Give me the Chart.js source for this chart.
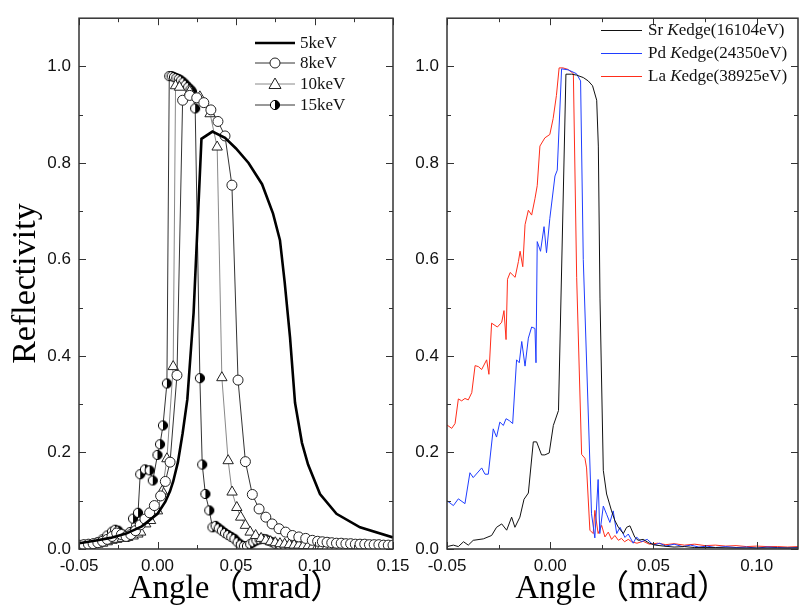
<!DOCTYPE html>
<html><head><meta charset="utf-8">
<script src="https://cdn.jsdelivr.net/npm/chart.js@4.4.1/dist/chart.umd.min.js"></script>
<style>
html,body{margin:0;padding:0;background:#fff;}
#wrap{position:relative;width:802px;height:610px;overflow:hidden;}
#left{position:absolute;left:0;top:0;}
#right{position:absolute;left:400px;top:0;}
</style></head><body>
<div id="wrap"><canvas id="left" width="420" height="610"></canvas><canvas id="right" width="402" height="610"></canvas></div>
<script>
// left panel: reflectivity vs angle for different energies
const e5X = [-0.05,-0.04,-0.03,-0.02,-0.01,0,0.005,0.008,0.01,0.013,0.016,0.019,0.022,0.023,0.028,0.035,0.043,0.05,0.058,0.0666,0.0736,0.078,0.081,0.0844,0.0876,0.092,0.0959,0.1035,0.114,0.129,0.15];
const e5Y = [0.012,0.017,0.023,0.032,0.047,0.073,0.098,0.12,0.14,0.18,0.24,0.31,0.445,0.49,0.85,0.865,0.852,0.83,0.80,0.756,0.695,0.64,0.553,0.439,0.303,0.22,0.175,0.114,0.073,0.045,0.024];

const e8X = [-0.05,-0.047,-0.044,-0.041,-0.038,-0.035,-0.032,-0.029,-0.026,-0.023,-0.02,-0.017,-0.014,-0.011,-0.008,-0.005,-0.002,0.002,0.005,0.008,0.0124,0.016,0.0205,0.025,0.0295,0.034,0.0385,0.043,0.0474,0.0513,0.056,0.0604,0.0647,0.069,0.073,0.0774,0.0816,0.0859,0.09,0.0944,0.0986,0.102,0.105,0.108,0.111,0.114,0.117,0.12,0.123,0.126,0.129,0.132,0.135,0.138,0.141,0.144,0.147,0.15];
const e8Y = [0.008,0.009,0.01,0.011,0.013,0.016,0.02,0.026,0.033,0.03,0.026,0.03,0.038,0.05,0.062,0.075,0.09,0.11,0.14,0.18,0.36,0.93,0.94,0.935,0.925,0.91,0.886,0.856,0.754,0.35,0.181,0.113,0.083,0.066,0.052,0.042,0.035,0.028,0.025,0.022,0.018,0.016,0.015,0.014,0.013,0.012,0.012,0.011,0.011,0.01,0.01,0.01,0.009,0.009,0.009,0.008,0.008,0.008];

const e10X = [-0.05,-0.047,-0.044,-0.041,-0.038,-0.035,-0.032,-0.029,-0.026,-0.0224,-0.019,-0.0155,-0.0125,-0.0107,-0.0075,-0.0044,0.0,0.003,0.006,0.010,0.0115,0.014,0.0205,0.027,0.0335,0.038,0.041,0.045,0.0475,0.0505,0.053,0.056,0.059,0.0625,0.066,0.069,0.072,0.075,0.078,0.081,0.084,0.087,0.09,0.093,0.096,0.099,0.102,0.105,0.108,0.111,0.114,0.117,0.12,0.123,0.126,0.129,0.132,0.135,0.138,0.141,0.144,0.147,0.15];
const e10Y = [0.006,0.007,0.008,0.009,0.01,0.012,0.015,0.018,0.02,0.022,0.024,0.027,0.031,0.035,0.052,0.059,0.079,0.12,0.187,0.378,0.96,0.957,0.948,0.937,0.902,0.833,0.355,0.183,0.118,0.086,0.066,0.049,0.035,0.028,0.022,0.018,0.015,0.013,0.011,0.01,0.009,0.008,0.008,0.007,0.007,0.006,0.006,0.006,0.005,0.005,0.005,0.005,0.004,0.004,0.004,0.004,0.004,0.004,0.003,0.003,0.003,0.003,0.003];

const e15X = [-0.05,-0.047,-0.044,-0.041,-0.038,-0.035,-0.032,-0.029,-0.027,-0.025,-0.022,-0.019,-0.0175,-0.0156,-0.0124,-0.011,-0.008,-0.005,-0.003,0.0,0.0016,0.0035,0.006,0.0075,0.009,0.0105,0.012,0.0135,0.015,0.0165,0.018,0.0195,0.021,0.022,0.024,0.027,0.0285,0.0305,0.033,0.035,0.037,0.039,0.041,0.043,0.045,0.047,0.049,0.051,0.053,0.055,0.057,0.059,0.061,0.063,0.065,0.067,0.069,0.071,0.073,0.075,0.078,0.081,0.084,0.087,0.09,0.093,0.096,0.099,0.102,0.105,0.108,0.111,0.114,0.117,0.12,0.123,0.126,0.129,0.132,0.135,0.138,0.141,0.144,0.147,0.15];
const e15Y = [0.005,0.006,0.008,0.01,0.014,0.02,0.028,0.036,0.04,0.038,0.03,0.025,0.035,0.063,0.075,0.155,0.165,0.163,0.142,0.195,0.217,0.256,0.343,0.98,0.98,0.978,0.976,0.974,0.971,0.967,0.962,0.957,0.952,0.948,0.913,0.354,0.175,0.114,0.08,0.045,0.048,0.043,0.038,0.033,0.029,0.025,0.021,0.014,0.009,0.006,0.006,0.01,0.014,0.018,0.02,0.021,0.02,0.017,0.014,0.011,0.008,0.006,0.006,0.007,0.007,0.007,0.006,0.006,0.005,0.005,0.005,0.005,0.005,0.004,0.004,0.004,0.004,0.004,0.004,0.004,0.004,0.004,0.004,0.004,0.004];

// right panel: absorption edges
const srX = [-0.05,-0.0469,-0.0445,-0.042,-0.0397,-0.0373,-0.0324,-0.0284,-0.026,-0.0235,-0.0211,-0.0187,-0.0171,-0.0147,-0.0127,-0.0106,-0.0082,-0.0066,-0.0042,-0.0026,-0.0005,0.0015,0.004,0.0076,0.0104,0.0128,0.016,0.0184,0.0205,0.0225,0.0233,0.0241,0.0257,0.0273,0.0297,0.0313,0.033,0.0354,0.037,0.0386,0.041,0.0426,0.045,0.048,0.051,0.055,0.06,0.065,0.07,0.08,0.09,0.1,0.11,0.12];
const srY = [0.005,0.008,0.005,0.015,0.008,0.018,0.021,0.028,0.045,0.052,0.039,0.066,0.045,0.066,0.103,0.116,0.222,0.222,0.195,0.195,0.199,0.256,0.287,0.984,0.984,0.982,0.977,0.97,0.96,0.93,0.835,0.52,0.163,0.114,0.079,0.059,0.045,0.032,0.045,0.048,0.024,0.018,0.02,0.012,0.008,0.006,0.004,0.005,0.003,0.003,0.002,0.002,0.002,0.002];

const pdX = [-0.05,-0.0469,-0.0445,-0.0413,-0.0389,-0.0373,-0.0332,-0.0316,-0.03,-0.0276,-0.026,-0.0244,-0.0227,-0.0214,-0.0198,-0.0182,-0.0163,-0.015,-0.0138,-0.0122,-0.0106,-0.009,-0.0074,-0.0069,-0.0063,-0.0047,-0.003,-0.0018,-0.0002,0.0023,0.0034,0.0055,0.0087,0.0127,0.0147,0.016,0.02,0.0216,0.0232,0.024,0.0257,0.0273,0.0289,0.0305,0.0322,0.0338,0.0362,0.0378,0.0402,0.0418,0.044,0.047,0.05,0.053,0.056,0.06,0.064,0.068,0.072,0.076,0.08,0.085,0.09,0.095,0.1,0.105,0.11,0.115,0.12];
const pdY = [0.1,0.09,0.104,0.094,0.158,0.148,0.168,0.155,0.155,0.249,0.232,0.263,0.256,0.27,0.266,0.26,0.392,0.386,0.43,0.379,0.437,0.46,0.457,0.386,0.637,0.617,0.668,0.614,0.685,0.773,0.785,0.995,0.993,0.985,0.97,0.6,0.073,0.023,0.144,0.032,0.089,0.072,0.055,0.079,0.032,0.045,0.024,0.031,0.012,0.025,0.015,0.02,0.008,0.012,0.006,0.01,0.005,0.008,0.004,0.006,0.003,0.005,0.003,0.004,0.002,0.004,0.003,0.002,0.003];

const laX = [-0.05,-0.0477,-0.0461,-0.0445,-0.0429,-0.0413,-0.0397,-0.038,-0.0364,-0.0348,-0.0332,-0.0308,-0.0297,-0.0284,-0.0256,-0.0235,-0.0224,-0.0214,-0.0207,-0.0194,-0.017,-0.0154,-0.0146,-0.0133,-0.0122,-0.0106,-0.009,-0.0074,-0.0063,-0.005,-0.0026,-0.0002,0.0014,0.003,0.0043,0.0062,0.0085,0.0103,0.0112,0.0128,0.0152,0.0168,0.0176,0.0192,0.0208,0.0216,0.0232,0.0249,0.0265,0.0281,0.0297,0.0313,0.033,0.0345,0.036,0.0378,0.0394,0.042,0.045,0.048,0.052,0.056,0.06,0.065,0.07,0.075,0.08,0.085,0.09,0.095,0.1,0.105,0.11,0.115,0.12];
const laY = [0.257,0.25,0.26,0.311,0.307,0.312,0.309,0.324,0.38,0.378,0.372,0.392,0.362,0.468,0.46,0.47,0.494,0.434,0.559,0.573,0.563,0.596,0.617,0.585,0.672,0.702,0.692,0.726,0.753,0.835,0.852,0.859,0.892,0.94,0.997,0.997,0.994,0.988,0.985,0.563,0.196,0.188,0.168,0.039,0.032,0.08,0.032,0.049,0.025,0.035,0.02,0.028,0.018,0.022,0.015,0.02,0.015,0.012,0.016,0.01,0.012,0.009,0.011,0.008,0.01,0.007,0.008,0.006,0.007,0.005,0.006,0.005,0.005,0.004,0.005];

// axis ticks
const leftXMajor = [-0.05,0,0.05,0.1,0.15];
const leftXMinor = [-0.025,0.025,0.075,0.125];
const rightXMajor = [-0.05,0,0.05,0.1];
const rightXMinor = [-0.025,0.025,0.075];
const yMajor = [0,0.2,0.4,0.6,0.8,1.0];
const yMinor = [0.1,0.3,0.5,0.7,0.9];

const leftLabels = ['5keV','8keV','10keV','15keV'];
const rightLabels = [['Sr ','K','edge(16104eV)'],['Pd ','K','edge(24350eV)'],['La ','K','edge(38925eV)']];

const SERIF = "'Liberation Serif', 'Times New Roman', 'Noto Sans CJK SC', serif";
const SANS = "'Liberation Sans', Arial, sans-serif";

const pts = (xs, ys) => xs.map((x, i) => ({x, y: ys[i]}));

// half-filled circle marker (left white, right black)
const halfImg = document.createElement('canvas');
halfImg.width = 12; halfImg.height = 12;
(function() {
  const c = halfImg.getContext('2d');
  c.fillStyle = '#fff';
  c.beginPath(); c.arc(6, 6, 4.6, 0, Math.PI*2); c.fill();
  c.fillStyle = '#000';
  c.beginPath(); c.arc(6, 6, 4.6, -Math.PI/2, Math.PI/2); c.fill();
  c.strokeStyle = '#000'; c.lineWidth = 1;
  c.beginPath(); c.arc(6, 6, 4.6, 0, Math.PI*2); c.stroke();
})();

const frameTicks = {
  id: 'frameTicks',
  afterDraw(chart, args, o) {
    const {ctx, chartArea: a, scales: {x, y}} = chart;
    const ln = (x1, y1, x2, y2) => { ctx.beginPath(); ctx.moveTo(x1, y1); ctx.lineTo(x2, y2); ctx.stroke(); };
    ctx.save();
    ctx.strokeStyle = '#333';
    ctx.lineWidth = 1;
    const xt = (vals, len) => vals.forEach(v => { const p = Math.round(x.getPixelForValue(v)) + 0.5; ln(p, a.bottom, p, a.bottom - len); ln(p, a.top, p, a.top + len); });
    const yt = (vals, len) => vals.forEach(v => { const p = Math.round(y.getPixelForValue(v)) + 0.5; ln(a.left, p, a.left + len, p); ln(a.right, p, a.right - len, p); });
    xt(o.xMajor, 7); xt(o.xMinor, 4);
    yt(yMajor, 7); yt(yMinor, 4);
    ctx.lineWidth = 1.5;
    ctx.strokeRect(a.left, a.top, a.right - a.left, a.bottom - a.top);
    ctx.restore();
  }
};

const leftLegend = {
  id: 'leftLegend',
  afterDraw(chart) {
    const ctx = chart.ctx;
    const rows = [43, 63, 84, 105];
    ctx.save();
    ctx.font = '17px ' + SERIF;
    ctx.textBaseline = 'middle';
    ctx.fillStyle = '#111';
    rows.forEach((ry, i) => {
      const ds = chart.data.datasets[i];
      ctx.strokeStyle = ds.borderColor;
      ctx.lineWidth = ds.borderWidth;
      ctx.beginPath(); ctx.moveTo(255, ry); ctx.lineTo(295, ry); ctx.stroke();
      ctx.lineWidth = 1; ctx.strokeStyle = '#222'; ctx.fillStyle = '#fff';
      if (i === 1) { ctx.beginPath(); ctx.arc(275, ry, 5, 0, Math.PI*2); ctx.fill(); ctx.stroke(); }
      if (i === 2) { ctx.beginPath(); ctx.moveTo(275, ry - 6); ctx.lineTo(281, ry + 4.5); ctx.lineTo(269, ry + 4.5); ctx.closePath(); ctx.fill(); ctx.stroke(); }
      if (i === 3) ctx.drawImage(halfImg, 269, ry - 6);
      ctx.fillStyle = '#111';
      ctx.fillText(leftLabels[i], 300, ry + 1);
    });
    ctx.restore();
  }
};

const rightLegend = {
  id: 'rightLegend',
  afterDraw(chart) {
    const ctx = chart.ctx;
    const rows = [30, 53, 76];
    const x0 = 601 - 400;
    ctx.save();
    ctx.textBaseline = 'middle';
    ctx.fillStyle = '#111';
    rows.forEach((ry, i) => {
      const ds = chart.data.datasets[i];
      ctx.strokeStyle = ds.borderColor; ctx.lineWidth = 1;
      ctx.beginPath(); ctx.moveTo(x0, ry + 0.5); ctx.lineTo(x0 + 41, ry + 0.5); ctx.stroke();
      let tx = x0 + 47;
      rightLabels[i].forEach((t, j) => {
        ctx.font = (j === 1 ? 'italic ' : '') + '17px ' + SERIF;
        ctx.fillText(t, tx, ry + 1);
        tx += ctx.measureText(t).width;
      });
    });
    ctx.restore();
  }
};

function axes(xMin, xMax, xTicks, withTitleY) {
  return {
    x: {
      type: 'linear', min: xMin, max: xMax,
      grid: { display: false, drawTicks: false },
      border: { display: false },
      afterBuildTicks: s => { s.ticks = xTicks.map(v => ({ value: v })); },
      afterFit: s => { s.height = 61; },
      ticks: { color: '#111', font: { family: SANS, size: 17 }, padding: 7, maxRotation: 0, autoSkip: false,
        callback: v => v.toFixed(2) },
      title: { display: true, text: 'Angle（mrad）', color: '#000', font: { family: SERIF, size: 33 }, padding: { top: 0, bottom: 1 } }
    },
    y: {
      min: 0, max: 1.1,
      grid: { display: false, drawTicks: false },
      border: { display: false },
      afterBuildTicks: s => { s.ticks = yMajor.map(v => ({ value: v })); },
      afterFit: s => { s.width = withTitleY ? 79 : 47; },
      ticks: { color: '#111', font: { family: SANS, size: 17 }, padding: 8, callback: v => v.toFixed(1) },
      title: { display: withTitleY, text: 'Reflectivity', color: '#000', font: { family: SERIF, size: 34 }, padding: { top: 6, bottom: 0 } }
    }
  };
}

new Chart(document.getElementById('left'), {
  type: 'scatter',
  data: {
    datasets: [
      { data: pts(e5X, e5Y), showLine: true, borderColor: '#000', borderWidth: 2.6, pointRadius: 0 },
      { data: pts(e8X, e8Y), showLine: true, borderColor: '#333', borderWidth: 1, pointStyle: 'circle', pointRadius: 5, pointBorderWidth: 1, pointBorderColor: '#222', pointBackgroundColor: '#fff' },
      { data: pts(e10X, e10Y), showLine: true, borderColor: '#888', borderWidth: 1, pointStyle: 'triangle', pointRadius: 6, pointBorderWidth: 1, pointBorderColor: '#222', pointBackgroundColor: '#fff' },
      { data: pts(e15X, e15Y), showLine: true, borderColor: '#333', borderWidth: 1, pointStyle: halfImg, pointRadius: 5 }
    ]
  },
  options: {
    responsive: false, animation: false,
    layout: { padding: { left: 0, right: 27, top: 8, bottom: 0 } },
    plugins: { legend: { display: false }, tooltip: { enabled: false }, frameTicks: { xMajor: leftXMajor, xMinor: leftXMinor } },
    scales: axes(-0.05, 0.15, leftXMajor, true)
  },
  plugins: [frameTicks, leftLegend]
});

new Chart(document.getElementById('right'), {
  type: 'scatter',
  data: {
    datasets: [
      { data: pts(srX, srY), showLine: true, borderColor: '#111', borderWidth: 1, pointRadius: 0 },
      { data: pts(pdX, pdY), showLine: true, borderColor: '#1f3dff', borderWidth: 1, pointRadius: 0 },
      { data: pts(laX, laY), showLine: true, borderColor: '#ff2d1a', borderWidth: 1, pointRadius: 0 }
    ]
  },
  options: {
    responsive: false, animation: false,
    layout: { padding: { left: 0, right: 4, top: 10, bottom: 0 } },
    plugins: { legend: { display: false }, tooltip: { enabled: false }, frameTicks: { xMajor: rightXMajor, xMinor: rightXMinor } },
    scales: axes(-0.05, 0.12, rightXMajor, false)
  },
  plugins: [frameTicks, rightLegend]
});
</script>
</body></html>
